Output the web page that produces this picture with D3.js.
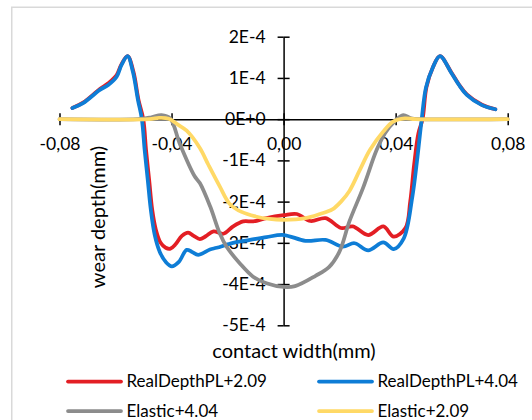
<!DOCTYPE html>
<html>
<head>
<meta charset="utf-8">
<script src="https://cdn.jsdelivr.net/npm/d3@7"></script>
<style>
  body { margin: 0; background: #fff; }
  svg text { font-family: Lato, "Open Sans", sans-serif; fill: #000; }
</style>
</head>
<body>
<script>

// data (x in mm, y in mm)
var seriesNames = ["RealDepthPL+2.09", "RealDepthPL+4.04", "Elastic+4.04", "Elastic+2.09"];

var realPL209 = [
  [-0.0754, 0.27e-4], [-0.0716, 0.40e-4], [-0.0656, 0.73e-4], [-0.0626, 0.87e-4], [-0.0596, 1.07e-4],
  [-0.0579, 1.33e-4], [-0.0557, 1.53e-4], [-0.0536, 1.15e-4], [-0.0518, 0.47e-4], [-0.0501, 0],
  [-0.0491, -0.75e-4], [-0.0480, -1.47e-4], [-0.0469, -2.2e-4], [-0.0456, -2.68e-4], [-0.0439, -3.0e-4],
  [-0.0421, -3.12e-4], [-0.0404, -3.14e-4], [-0.0385, -3.03e-4], [-0.0363, -2.83e-4], [-0.0341, -2.75e-4],
  [-0.0321, -2.83e-4], [-0.0299, -2.91e-4], [-0.0278, -2.84e-4], [-0.0250, -2.72e-4], [-0.0215, -2.78e-4],
  [-0.0180, -2.6e-4], [-0.0144, -2.48e-4], [-0.0108, -2.48e-4], [-0.0061, -2.4e-4], [0, -2.33e-4],
  [0.0047, -2.3e-4], [0.0096, -2.47e-4], [0.0150, -2.4e-4], [0.0205, -2.64e-4], [0.0247, -2.6e-4],
  [0.0302, -2.81e-4], [0.0356, -2.6e-4], [0.0393, -2.85e-4], [0.0435, -2.64e-4], [0.0452, -2.0e-4],
  [0.0466, -1.1e-4], [0.0481, -0.35e-4], [0.0496, 0], [0.0510, 0.78e-4], [0.0532, 1.24e-4],
  [0.0558, 1.53e-4], [0.0599, 1.13e-4], [0.0626, 0.84e-4], [0.0654, 0.60e-4], [0.0708, 0.35e-4],
  [0.0756, 0.24e-4]
];

var realPL404 = [
  [-0.0754, 0.27e-4], [-0.0716, 0.39e-4], [-0.0656, 0.71e-4], [-0.0626, 0.83e-4], [-0.0596, 1.03e-4],
  [-0.0579, 1.31e-4], [-0.0557, 1.53e-4], [-0.0538, 1.15e-4], [-0.0520, 0.47e-4], [-0.0506, 0],
  [-0.0496, -0.75e-4], [-0.0485, -1.47e-4], [-0.0474, -2.2e-4], [-0.0460, -2.81e-4], [-0.0442, -3.22e-4],
  [-0.0421, -3.46e-4], [-0.0399, -3.57e-4], [-0.0374, -3.46e-4], [-0.0346, -3.17e-4], [-0.0327, -3.22e-4],
  [-0.0305, -3.29e-4], [-0.0263, -3.16e-4], [-0.0239, -3.12e-4], [-0.0180, -3.0e-4], [-0.0120, -2.93e-4],
  [-0.0061, -2.86e-4], [0, -2.81e-4], [0.0078, -2.95e-4], [0.0150, -2.93e-4], [0.0211, -3.09e-4],
  [0.0253, -3.01e-4], [0.0302, -3.18e-4], [0.0356, -2.99e-4], [0.0393, -3.15e-4], [0.0429, -2.89e-4],
  [0.0459, -1.91e-4], [0.0478, -0.91e-4], [0.0493, 0], [0.0508, 0.76e-4], [0.0532, 1.24e-4],
  [0.0558, 1.53e-4], [0.0599, 1.12e-4], [0.0626, 0.83e-4], [0.0654, 0.59e-4], [0.0708, 0.34e-4],
  [0.0756, 0.24e-4]
];

var elastic404 = [
  [-0.08, 0], [-0.0520, 0], [-0.0475, 0.04e-4], [-0.0436, 0.1e-4], [-0.0405, 0.02e-4],
  [-0.0371, -0.59e-4], [-0.0318, -1.38e-4], [-0.0299, -1.55e-4], [-0.0262, -2.12e-4], [-0.0228, -2.77e-4],
  [-0.0204, -3.09e-4], [-0.0156, -3.5e-4], [-0.0109, -3.82e-4], [-0.0061, -3.98e-4], [0, -4.07e-4],
  [0.0041, -4.05e-4], [0.0114, -3.8e-4], [0.0162, -3.59e-4], [0.0199, -3.22e-4], [0.0235, -2.48e-4],
  [0.0284, -1.66e-4], [0.0332, -0.75e-4], [0.0362, -0.34e-4], [0.0398, -0.04e-4], [0.0427, 0.1e-4],
  [0.0455, 0.02e-4], [0.049, 0], [0.08, 0]
];

var elastic209 = [
  [-0.08, 0], [-0.048, 0], [-0.0445, 0.03e-4], [-0.0410, 0.01e-4], [-0.0376, -0.14e-4],
  [-0.0346, -0.28e-4], [-0.0299, -0.70e-4], [-0.0269, -1.1e-4], [-0.0228, -1.63e-4], [-0.0193, -2.05e-4],
  [-0.0150, -2.25e-4], [-0.0100, -2.36e-4], [-0.005, -2.42e-4], [0, -2.44e-4], [0.0078, -2.40e-4],
  [0.0130, -2.3e-4], [0.0174, -2.19e-4], [0.0205, -2.0e-4], [0.0235, -1.74e-4], [0.0271, -1.25e-4],
  [0.0308, -0.75e-4], [0.0356, -0.30e-4], [0.0391, -0.06e-4], [0.0433, 0.02e-4], [0.047, 0], [0.08, 0]
];

var xTicks = [-0.08, -0.04, 0, 0.04, 0.08];
var xTickLabels = ["-0,08", "-0,04", "0,00", "0,04", "0,08"];
var yTicks = [2e-4, 1e-4, 0, -1e-4, -2e-4, -3e-4, -4e-4, -5e-4];
var yTickLabels = ["2E-4", "1E-4", "0E+0", "-1E-4", "-2E-4", "-3E-4", "-4E-4", "-5E-4"];

var allSeries = [realPL209, realPL404, elastic404, elastic209];
var colors = ["#E31E24", "#0E7DD6", "#8C8C8C", "#FFD966"];

var svgWidth = 532,
    svgHeight = 420;

var svg = d3.select('body').append('svg')
  .attr('width', svgWidth)
  .attr('height', svgHeight)

// chart area border (cut off on the right and bottom like the reference)
svg.append('rect')
  .attr('x', 11.75).attr('y', 7.25)
  .attr('width', 560).attr('height', 440)
  .attr('fill', 'white')
  .attr('stroke', '#d9d9d9')
  .attr('stroke-width', 1.5)

var xScale = d3.scaleLinear().domain([-0.08, 0.08]).range([59.5, 507.7])
var yScale = d3.scaleLinear().domain([-5e-4, 2e-4]).range([325.3, 36.7])

var x0 = xScale(0), y0 = yScale(0);

// y axis: labels on the left, ticks crossing the line
var yAxis = d3.axisLeft(yScale).tickValues(yTicks)
  .tickFormat((d, i) => yTickLabels[i])
  .tickSizeInner(6).tickSizeOuter(0).tickPadding(12)

var yAxisG = svg.append('g')
  .attr('class', 'axis-y')
  .attr('transform', `translate(${x0},0)`)
  .call(yAxis)

svg.append('g')
  .attr('transform', `translate(${x0},0)`)
  .call(d3.axisRight(yScale).tickValues(yTicks).tickFormat('').tickSizeInner(6).tickSizeOuter(0))
  .select('.domain').remove()

var xAxis = d3.axisBottom(xScale).tickValues(xTicks)
  .tickFormat((d, i) => xTickLabels[i])
  .tickSizeInner(6).tickSizeOuter(0).tickPadding(12)

var xAxisG = svg.append('g')
  .attr('class', 'axis-x')
  .attr('transform', `translate(0,${y0})`)
  .call(xAxis)

svg.append('g')
  .attr('transform', `translate(0,${y0})`)
  .call(d3.axisTop(xScale).tickValues(xTicks).tickFormat('').tickSizeInner(6).tickSizeOuter(0))
  .select('.domain').remove()

svg.selectAll('.tick line').attr('stroke', '#000').attr('stroke-width', 1.5)
svg.selectAll('.domain').attr('stroke', '#000').attr('stroke-width', 1.5)
svg.selectAll('.tick text').style('font-size', '17.5px')

// series, drawn in legend order
var line = d3.line()
  .x(d => xScale(d[0]))
  .y(d => yScale(d[1]))
  .curve(d3.curveCatmullRom.alpha(0.5))

svg.selectAll('.series').data(allSeries).enter()
  .append('path')
  .attr('class', 'series')
  .attr('d', line)
  .attr('fill', 'none')
  .attr('stroke', (d, i) => colors[i])
  .attr('stroke-width', 3.75)
  .attr('stroke-linejoin', 'round')
  .attr('stroke-linecap', 'round')

// axis titles
svg.append('text')
  .attr('x', 294).attr('y', 351)
  .attr('dy', '0.35em')
  .attr('text-anchor', 'middle')
  .style('font-size', '20px')
  .text('contact width(mm)')

svg.append('text')
  .attr('transform', 'translate(97.5,217) rotate(-90)')
  .attr('dy', '0.35em')
  .attr('text-anchor', 'middle')
  .style('font-size', '20px')
  .text('wear depth(mm)')

// legend 2 x 2
var legend = svg.selectAll('.legend').data(seriesNames).enter()
  .append('g')
  .attr('class', 'legend')
  .attr('transform', (d, i) => `translate(${i % 2 ? 319 : 68},${i < 2 ? 381.5 : 411})`)

legend.append('line')
  .attr('x1', 0).attr('x2', 53)
  .attr('stroke', (d, i) => colors[i])
  .attr('stroke-width', 3.75)
  .attr('stroke-linecap', 'round')

legend.append('text')
  .attr('x', 58.5)
  .attr('dy', '0.35em')
  .style('font-size', '17px')
  .text(d => d)

</script>
</body>
</html>
